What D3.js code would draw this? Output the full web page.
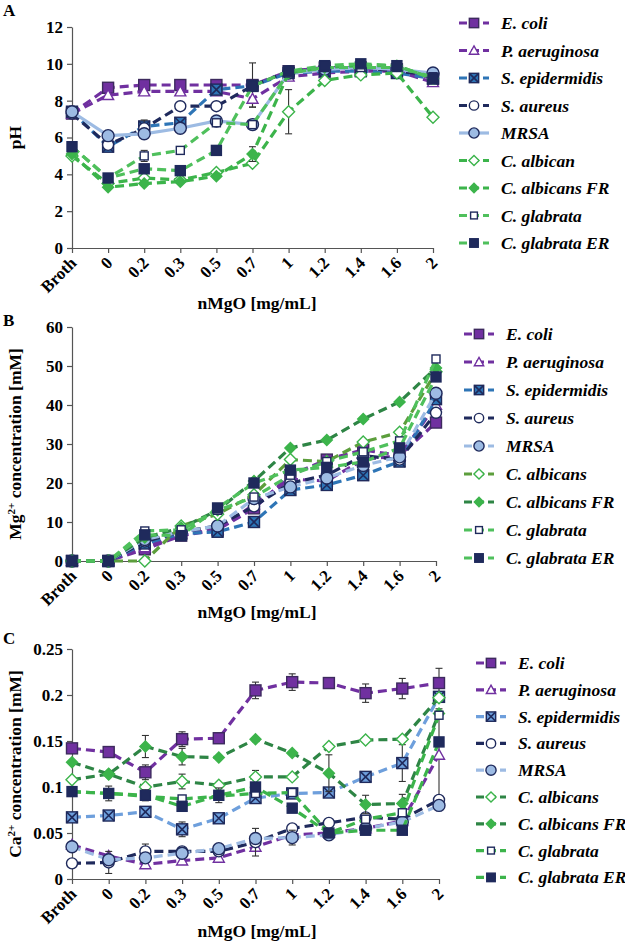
<!DOCTYPE html>
<html>
<head>
<meta charset="utf-8">
<script src="https://cdnjs.cloudflare.com/ajax/libs/d3/7.8.5/d3.min.js"></script>
<style>
    body { margin: 0; background: #fff; }
    svg text { font-family: 'Liberation Serif', 'Times New Roman', Times, serif !important; }
</style>
</head>
<body>
<script>
// Categories on the x axis (nMgO concentration)
var categories = ['Broth', '0', '0.2', '0.3', '0.5', '0.7', '1', '1.2', '1.4', '1.6', '2'];

var namesA = ['E. coli', 'P. aeruginosa', 'S. epidermidis', 'S. aureus', 'MRSA', 'C. albican', 'C. albicans FR', 'C. glabrata', 'C. glabrata ER'];
var namesBC = ['E. coli', 'P. aeruginosa', 'S. epidermidis', 'S. aureus', 'MRSA', 'C. albicans', 'C. albicans FR', 'C. glabrata', 'C. glabrata ER'];

// Panel A - pH
var ecoliPH = [7.3, 8.7, 8.85, 8.85, 8.85, 8.85, 9.6, 9.8, 9.8, 9.7, 9.2];
var paerPH = [7.3, 8.3, 8.5, 8.5, 8.5, 8.1, 9.3, 9.5, 9.6, 9.6, 9.0];
var sepiPH = [7.4, 5.5, 6.6, 6.8, 8.6, 8.8, 9.5, 9.6, 9.6, 9.5, 9.2];
var saurPH = [7.3, 5.6, 6.5, 7.7, 7.7, 8.8, 9.6, 9.7, 9.8, 9.6, 9.4];
var mrsaPH = [7.4, 6.1, 6.2, 6.5, 6.9, 6.7, 9.5, 9.7, 9.8, 9.7, 9.5];
var calbPH = [5.0, 3.5, 3.8, 3.7, 4.1, 4.6, 7.4, 9.1, 9.4, 9.5, 7.1];
var calbFrPH = [5.1, 3.3, 3.5, 3.6, 3.9, 5.1, 9.5, 9.8, 9.9, 9.9, 9.2];
var cglaPH = [5.5, 3.8, 5.0, 5.3, 6.8, 6.7, 9.5, 9.8, 9.8, 9.8, 9.3];
var cglaErPH = [5.5, 3.8, 4.3, 4.2, 5.3, 8.8, 9.6, 9.9, 10.0, 9.9, 9.2];

// Panel A error bars (same order as series)
var errPH = [
    [0, 0, 0, 0, 0, 1.2, 0, 0, 0, 0, 0],
    [0, 0, 0, 0, 0, 0.45, 0, 0, 0, 0, 0],
    [0, 0, 0, 0, 0, 0, 0, 0, 0, 0, 0],
    [0, 0, 0.45, 0.2, 0, 0, 0, 0, 0, 0, 0],
    [0, 0, 0, 0, 0, 0, 0, 0, 0, 0, 0],
    [0, 0, 0, 0, 0, 0.15, 1.2, 0, 0, 0, 0.1],
    [0, 0, 0, 0, 0, 0.4, 0, 0, 0, 0, 0],
    [0, 0, 0.3, 0, 0, 0, 0, 0, 0, 0, 0],
    [0, 0, 0, 0, 0, 0, 0, 0, 0, 0, 0]
];

// Panel B - Mg2+ concentration [mM]
var ecoliMg = [0, 0, 3.0, 6.5, 8.0, 13.5, 22, 26, 28.5, 27, 35.5];
var paerMg = [0, 0, 3.5, 7, 8, 14.5, 21, 20.5, 26, 27, 40];
var sepiMg = [0, 0, 4.5, 7, 7.5, 10, 18.2, 19.5, 22, 25.5, 41.5];
var saurMg = [0, 0, 5, 7.5, 9, 14, 20, 22, 27, 26, 38];
var mrsaMg = [0, 0, 5.5, 7.5, 9, 16, 19, 21.3, 24.5, 26.7, 43];
var calbMg = [0, 0, 0, 9, 12, 17, 26, 25.5, 30.5, 33, 48.5];
var calbFrMg = [0, 0, 6, 8.5, 13, 20.5, 29, 31, 36.4, 40.8, 49.5];
var cglaMg = [0, 0, 7.7, 8, 13, 16.4, 22, 25.5, 28, 30.8, 51.8];
var cglaErMg = [0, 0, 6.7, 6.5, 13.6, 20, 23.3, 24, 25.4, 29, 47.2];

// Panel C - Ca2+ concentration [mM]
var ecoliCa = [0.142, 0.138, 0.116, 0.152, 0.153, 0.205, 0.214, 0.213, 0.202, 0.207, 0.213];
var paerCa = [0.037, 0.025, 0.016, 0.020, 0.023, 0.035, 0.048, 0.050, 0.055, 0.063, 0.135];
var sepiCa = [0.067, 0.069, 0.073, 0.054, 0.066, 0.088, 0.093, 0.094, 0.111, 0.126, 0.198];
var saurCa = [0.017, 0.018, 0.030, 0.030, 0.030, 0.040, 0.055, 0.061, 0.067, 0.065, 0.086];
var mrsaCa = [0.035, 0.021, 0.023, 0.028, 0.033, 0.044, 0.045, 0.048, 0.055, 0.062, 0.080];
var calbCa = [0.108, 0.114, 0.100, 0.106, 0.102, 0.111, 0.111, 0.144, 0.151, 0.152, 0.197];
var calbFrCa = [0.127, 0.114, 0.144, 0.133, 0.132, 0.152, 0.137, 0.115, 0.081, 0.082, 0.180];
var cglaCa = [0.095, 0.093, 0.090, 0.087, 0.090, 0.093, 0.094, 0.050, 0.065, 0.072, 0.178];
var cglaErCa = [0.095, 0.093, 0.091, 0.079, 0.091, 0.100, 0.077, 0.050, 0.053, 0.053, 0.149];

var errCa = [
    [0.004, 0.004, 0.008, 0.008, 0.005, 0.009, 0.009, 0.004, 0.01, 0.011, 0.016],
    [0, 0, 0, 0, 0, 0, 0, 0, 0, 0, 0.05],
    [0, 0, 0, 0.008, 0, 0, 0, 0, 0, 0.02, 0],
    [0, 0.012, 0.008, 0, 0, 0.015, 0, 0, 0, 0, 0],
    [0, 0, 0, 0, 0, 0, 0.008, 0, 0, 0, 0],
    [0, 0, 0, 0.008, 0, 0.007, 0, 0, 0, 0, 0],
    [0, 0, 0.012, 0.009, 0, 0, 0, 0.02, 0.01, 0.01, 0],
    [0, 0, 0, 0, 0, 0, 0, 0, 0, 0, 0],
    [0, 0.008, 0.006, 0, 0.008, 0, 0, 0, 0, 0, 0]
];

// Colours
var purple = '#7030a0',
    navy = '#1f2a5c',
    blue = '#2e75b6',
    paleBlue = '#6e9fdc',
    lightBlue = '#9dbbe3',
    green = '#3cb44b',
    lightGreen = '#4fc05c',
    darkGreen = '#2e8545',
    olive = '#5c9e3c';

var serif = "'Liberation Serif', 'Times New Roman', Times, serif";

var stylesA = [
    { line: purple, shape: 'square', fill: purple, stroke: '#3d2a5e', size: 11 },
    { line: purple, shape: 'triangle', fill: '#fff', stroke: purple, size: 11 },
    { line: blue, shape: 'xsquare', fill: blue, stroke: navy, size: 11 },
    { line: navy, shape: 'circle', fill: '#fff', stroke: navy, size: 11 },
    { line: lightBlue, shape: 'circle', fill: lightBlue, stroke: navy, size: 12, solid: true },
    { line: green, shape: 'diamond', fill: '#fff', stroke: green, size: 12 },
    { line: green, shape: 'diamond', fill: green, stroke: green, size: 11 },
    { line: lightGreen, shape: 'square', fill: '#fff', stroke: navy, size: 8 },
    { line: lightGreen, shape: 'square', fill: navy, stroke: navy, size: 10 }
];

var stylesB = stylesA.map(function (s) { return Object.assign({}, s, { solid: false }); });
stylesB[5].line = olive;
stylesB[6].line = darkGreen;

var stylesC = stylesB.map(function (s) { return Object.assign({}, s); });
stylesC[2].line = paleBlue;
stylesC[2].fill = paleBlue;
stylesC[5].line = darkGreen;
stylesC[6].line = darkGreen;
stylesC[7].line = green;
stylesC[8].line = green;

var width = 625,
    height = 941;

var svg = d3.select('body')
    .append('svg')
    .attr('width', width)
    .attr('height', height)
    .style('display', 'block');

drawPanel({
    label: 'A', labelY: 16,
    top: 27, bottom: 248, left: 72, right: 433,
    yMax: 12, yStep: 2, fmt: d3.format('d'),
    series: [ecoliPH, paerPH, sepiPH, saurPH, mrsaPH, calbPH, calbFrPH, cglaPH, cglaErPH],
    errors: errPH,
    styles: stylesA, names: namesA,
    legX: 459, legY: 23, legStep: 27.5,
    yTitle: ['pH'], xTitleY: 309
});

drawPanel({
    label: 'B', labelY: 326,
    top: 327, bottom: 561, left: 72, right: 436,
    yMax: 60, yStep: 10, fmt: d3.format('d'),
    series: [ecoliMg, paerMg, sepiMg, saurMg, mrsaMg, calbMg, calbFrMg, cglaMg, cglaErMg],
    errors: null,
    styles: stylesB, names: namesBC,
    legX: 464, legY: 334, legStep: 28,
    yTitle: ['Mg', '2+', ' concentration [mM]'], xTitleY: 618
});

drawPanel({
    label: 'C', labelY: 644,
    top: 649, bottom: 879, left: 72, right: 439,
    yMax: 0.25, yStep: 0.05, fmt: function (d) { return d === 0 ? '0' : String(+d.toFixed(2)); },
    series: [ecoliCa, paerCa, sepiCa, saurCa, mrsaCa, calbCa, calbFrCa, cglaCa, cglaErCa],
    errors: errCa,
    styles: stylesC, names: namesBC,
    legX: 476, legY: 663, legStep: 26.8,
    yTitle: ['Ca', '2+', ' concentration [mM]'], xTitleY: 937
});


function drawPanel(cfg) {
    var g = svg.append('g')
        .attr('font-family', serif);

    var x = d3.scalePoint()
        .domain(categories)
        .range([cfg.left, cfg.right])
        .padding(0);

    var y = d3.scaleLinear()
        .domain([0, cfg.yMax])
        .range([cfg.bottom, cfg.top]);

    var ticks = d3.range(0, cfg.yMax + cfg.yStep / 2, cfg.yStep);

    // Y axis
    var yAxis = d3.axisLeft(y)
        .tickValues(ticks)
        .tickSize(5)
        .tickSizeOuter(0)
        .tickFormat(cfg.fmt);

    var yg = g.append('g')
        .attr('transform', 'translate(' + cfg.left + ',0)')
        .call(yAxis)
        .attr('font-family', serif);
    yg.selectAll('text')
        .attr('x', -9)
        .attr('font-size', 17)
        .attr('font-weight', 'bold')
        .attr('fill', '#000');

    // X axis
    var xAxis = d3.axisBottom(x)
        .tickSize(5)
        .tickSizeOuter(0);

    var xg = g.append('g')
        .attr('transform', 'translate(0,' + cfg.bottom + ')')
        .call(xAxis)
        .attr('font-family', serif);
    xg.selectAll('text')
        .attr('text-anchor', 'end')
        .attr('dy', null)
        .attr('y', null)
        .attr('transform', 'translate(5,16) rotate(-45)')
        .attr('font-size', 17)
        .attr('font-weight', 'bold')
        .attr('fill', '#000');

    g.selectAll('.domain, .tick line')
        .attr('stroke', '#555')
        .attr('stroke-width', 1.2);

    // Series
    cfg.series.forEach(function (vals, i) {
        var st = cfg.styles[i];
        var line = d3.line()
            .x(function (d, j) { return x(categories[j]); })
            .y(function (d) { return y(d); });

        g.append('path')
            .datum(vals)
            .attr('d', line)
            .attr('fill', 'none')
            .attr('stroke', st.line)
            .attr('stroke-width', 3.2)
            .attr('stroke-dasharray', st.solid ? null : '9,5');

        if (cfg.errors) {
            vals.forEach(function (v, j) {
                var e = cfg.errors[i][j];
                if (!e) return;
                var cx = x(categories[j]);
                var eg = g.append('g').attr('stroke', '#333').attr('stroke-width', 1.1);
                eg.append('line').attr('x1', cx).attr('x2', cx).attr('y1', y(v - e)).attr('y2', y(v + e));
                eg.append('line').attr('x1', cx - 3.5).attr('x2', cx + 3.5).attr('y1', y(v - e)).attr('y2', y(v - e));
                eg.append('line').attr('x1', cx - 3.5).attr('x2', cx + 3.5).attr('y1', y(v + e)).attr('y2', y(v + e));
            });
        }

        vals.forEach(function (v, j) {
            drawMarker(g, st, x(categories[j]), y(v), st.size);
        });
    });

    // Legend
    var leg = g.append('g');
    cfg.names.forEach(function (name, i) {
        var st = cfg.styles[i];
        var ly = cfg.legY + i * cfg.legStep;
        leg.append('line')
            .attr('x1', cfg.legX)
            .attr('x2', cfg.legX + 30)
            .attr('y1', ly)
            .attr('y2', ly)
            .attr('stroke', st.line)
            .attr('stroke-width', 3.2)
            .attr('stroke-dasharray', st.solid ? null : '8,4');
        drawMarker(leg, st, cfg.legX + 15, ly, st.size * 0.85);
        leg.append('text')
            .attr('x', cfg.legX + 42)
            .attr('y', ly + 6)
            .attr('font-size', 17.5)
            .attr('font-weight', 'bold')
            .attr('font-style', 'italic')
            .text(name);
    });

    // Panel label
    g.append('text')
        .attr('x', 3)
        .attr('y', cfg.labelY)
        .attr('font-size', 17)
        .attr('font-weight', 'bold')
        .text(cfg.label);

    // Y title
    var cy = (cfg.top + cfg.bottom) / 2;
    var yt = g.append('text')
        .attr('transform', 'translate(21,' + cy + ') rotate(-90)')
        .attr('text-anchor', 'middle')
        .attr('font-size', 17.5)
        .attr('font-weight', 'bold');
    yt.append('tspan').text(cfg.yTitle[0]);
    if (cfg.yTitle.length > 1) {
        yt.append('tspan')
            .attr('dy', -6)
            .attr('font-size', 11)
            .text(cfg.yTitle[1]);
        yt.append('tspan')
            .attr('dy', 6)
            .text(cfg.yTitle[2]);
    }

    // X title
    g.append('text')
        .attr('x', 257)
        .attr('y', cfg.xTitleY)
        .attr('text-anchor', 'middle')
        .attr('font-size', 17.5)
        .attr('font-weight', 'bold')
        .text('nMgO [mg/mL]');
}

function drawMarker(g, st, cx, cy, s) {
    var h = s / 2;
    var m;
    if (st.shape === 'square' || st.shape === 'xsquare') {
        m = g.append('rect')
            .attr('x', cx - h).attr('y', cy - h)
            .attr('width', s).attr('height', s);
    } else if (st.shape === 'circle') {
        m = g.append('circle')
            .attr('cx', cx).attr('cy', cy).attr('r', h);
    } else if (st.shape === 'triangle') {
        m = g.append('path')
            .attr('d', 'M' + cx + ',' + (cy - h) + 'L' + (cx + h) + ',' + (cy + h * 0.8) + 'L' + (cx - h) + ',' + (cy + h * 0.8) + 'Z');
    } else if (st.shape === 'diamond') {
        m = g.append('path')
            .attr('d', 'M' + cx + ',' + (cy - h) + 'L' + (cx + h) + ',' + cy + 'L' + cx + ',' + (cy + h) + 'L' + (cx - h) + ',' + cy + 'Z');
    }
    m.attr('fill', st.fill)
        .attr('stroke', st.stroke)
        .attr('stroke-width', 1.4);
    if (st.shape === 'xsquare') {
        g.append('path')
            .attr('d', 'M' + (cx - h) + ',' + (cy - h) + 'L' + (cx + h) + ',' + (cy + h) + 'M' + (cx + h) + ',' + (cy - h) + 'L' + (cx - h) + ',' + (cy + h))
            .attr('stroke', st.stroke)
            .attr('stroke-width', 1.6);
    }
}
</script>
</body>
</html>
